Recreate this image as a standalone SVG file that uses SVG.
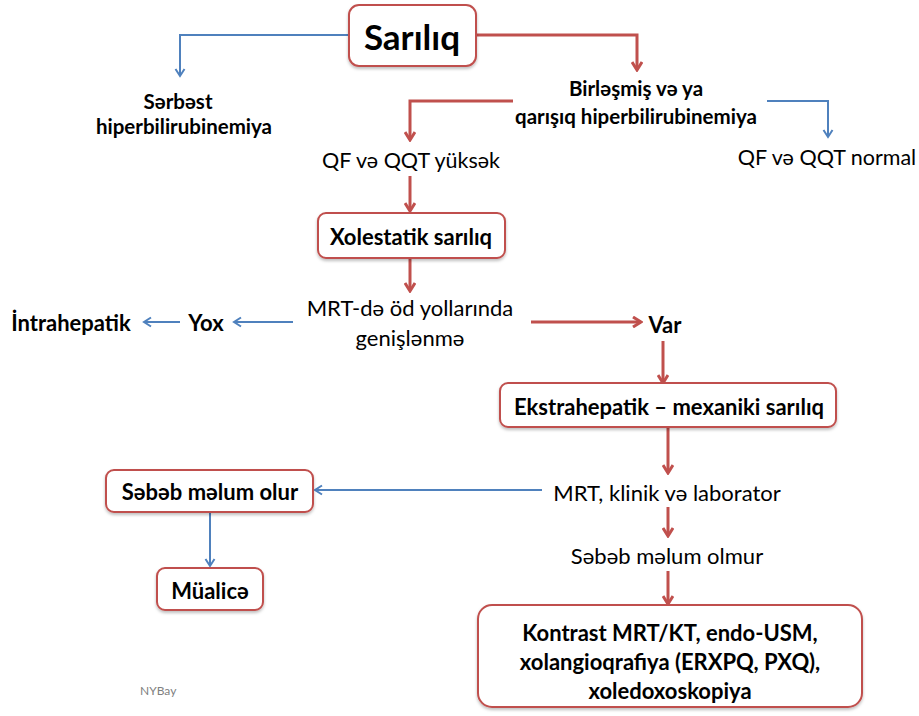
<svg xmlns="http://www.w3.org/2000/svg" width="919" height="716" viewBox="0 0 919 716">
<defs>
<marker id="ar" markerWidth="12" markerHeight="12" viewBox="0 0 12 12" refX="10" refY="6" orient="auto" markerUnits="userSpaceOnUse">
<path d="M2,1 L10,6 L2,11" fill="none" stroke="#c0504d" stroke-width="3"/>
</marker>
<marker id="ab" markerWidth="12" markerHeight="12" viewBox="0 0 12 12" refX="10" refY="6" orient="auto" markerUnits="userSpaceOnUse">
<path d="M3,1.5 L10,6 L3,10.5" fill="none" stroke="#4f81bd" stroke-width="2"/>
</marker>
<filter id="sh" x="-10%" y="-10%" width="120%" height="130%">
<feDropShadow dx="0" dy="2" stdDeviation="1.5" flood-color="#000" flood-opacity="0.25"/>
</filter>
</defs>
<style>
text{font-family:Lato,"Open Sans","Liberation Sans",sans-serif;fill:#000;text-anchor:middle;dominant-baseline:central}
.b{font-weight:bold;font-size:22px}
.s{font-weight:bold;font-size:20.5px}
.r{font-size:22px}
.q{font-size:21.5px}
.box{fill:#fff;stroke:#c0504d;stroke-width:2;filter:url(#sh)}
.red{fill:none;stroke:#c0504d;stroke-width:3;marker-end:url(#ar)}
.blue{fill:none;stroke:#4f81bd;stroke-width:2;marker-end:url(#ab)}
</style>
<rect width="919" height="716" fill="#fff"/>
<g id="connectors">
<path class="blue" d="M349,35 H180 V76"/>
<path class="red" d="M476,35 H637 V70"/>
<path class="red" d="M513,101 H410 V140"/>
<path class="blue" d="M767,101 H828 V137"/>
<path class="red" d="M410,176 V211"/>
<path class="red" d="M410,259 V291"/>
<path class="blue" d="M293,322 H234"/>
<path class="blue" d="M180,322 H144"/>
<path class="red" d="M531,322 H641"/>
<path class="red" d="M663,341 V383"/>
<path class="red" d="M668,428 V473"/>
<path class="blue" d="M542,490 H315"/>
<path class="blue" d="M210,512 V566"/>
<path class="red" d="M668,507 V536"/>
<path class="red" d="M668,571 V604"/>
</g>
<g id="sariliq"><rect class="box" x="349" y="5" width="127" height="61" rx="10"/><text x="412" y="36" style="font-weight:bold;font-size:35px">Sarılıq</text></g>
<g id="serbest"><text class="s" x="178" y="101">Sərbəst</text><text class="s" x="184" y="126">hiperbilirubinemiya</text></g>
<g id="birlesmis"><text class="s" x="636" y="88">Birləşmiş və ya</text><text class="s" x="636" y="116">qarışıq hiperbilirubinemiya</text></g>
<g id="qf-yuksek"><text class="q" x="411" y="160">QF və QQT yüksək</text></g>
<g id="qf-normal"><text class="q" x="827" y="157">QF və QQT normal</text></g>
<g id="xolestatik"><rect class="box" x="318" y="213" width="187" height="45" rx="8"/><text class="b" x="411" y="236">Xolestatik sarılıq</text></g>
<g id="mrt-od"><text class="r" x="410" y="307">MRT-də öd yollarında</text><text class="r" x="410" y="337">genişlənmə</text></g>
<g id="yox"><text class="b" x="206" y="322">Yox</text></g>
<g id="intrahepatik"><text class="b" x="71" y="322">İntrahepatik</text></g>
<g id="var"><text class="b" x="665" y="324">Var</text></g>
<g id="ekstrahepatik"><rect class="box" x="500" y="383" width="336" height="44" rx="8"/><text class="b" x="669" y="406">Ekstrahepatik – mexaniki sarılıq</text></g>
<g id="mrt-klinik"><text class="r" x="667" y="492">MRT, klinik və laborator</text></g>
<g id="sebeb-olur"><rect class="box" x="106" y="470" width="207" height="42" rx="8"/><text class="b" x="210" y="491">Səbəb məlum olur</text></g>
<g id="mualice"><rect class="box" x="157" y="568" width="106" height="42" rx="8"/><text class="b" x="210" y="590">Müalicə</text></g>
<g id="sebeb-olmur"><text class="r" x="667" y="555">Səbəb məlum olmur</text></g>
<g id="kontrast"><rect class="box" x="478" y="605" width="384" height="102" rx="14"/><text class="b" x="670" y="632">Kontrast MRT/KT, endo-USM,</text><text class="b" x="670" y="661">xolangioqrafiya (ERXPQ, PXQ),</text><text class="b" x="670" y="690">xoledoxoskopiya</text></g>
<text x="140" y="690" style="text-anchor:start;font-size:12px;fill:#808080">NYBay</text>
</svg>
